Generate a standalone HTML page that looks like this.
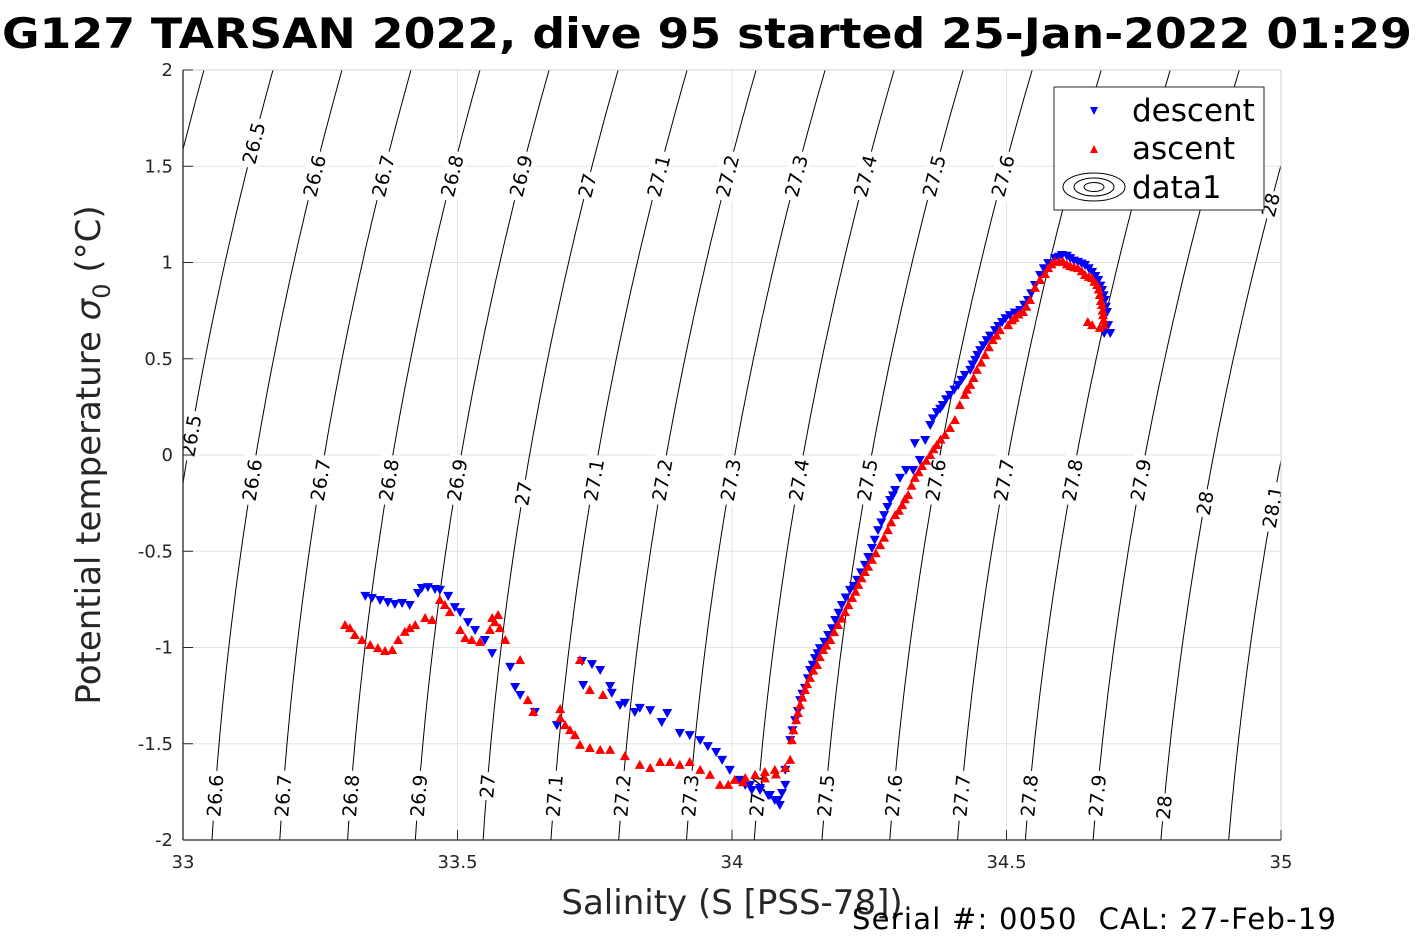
<!DOCTYPE html>
<html><head><meta charset="utf-8"><style>
html,body{margin:0;padding:0;background:#fff;}
svg{display:block;font-family:"Liberation Sans","DejaVu Sans",sans-serif;}
</style></head><body>
<svg id="chart" width="1417" height="945" viewBox="0 0 1417 945">
<text x="707" y="48" text-anchor="middle" font-size="42" font-weight="bold" textLength="1410" lengthAdjust="spacingAndGlyphs" font-family="DejaVu Sans, Liberation Sans, sans-serif">G127 TARSAN 2022, dive 95 started 25-Jan-2022 01:29</text>
<g id="grid"></g>
<g id="contours"></g>
<g id="series"></g>
<g id="axes"></g>
<text transform="translate(100,455) rotate(-90)" text-anchor="middle" font-size="34" fill="#262626" font-family="DejaVu Sans, sans-serif">Potential temperature <tspan font-style="italic">σ</tspan><tspan font-size="24" dy="10">0</tspan><tspan dy="-10"> (°C)</tspan></text>
<text x="732" y="914" text-anchor="middle" font-size="34" fill="#262626" font-family="DejaVu Sans, sans-serif">Salinity (S [PSS-78])</text>
<text x="852" y="929" font-size="29" fill="#000" textLength="484" lengthAdjust="spacing" style="white-space:pre" font-family="DejaVu Sans, sans-serif">Serial #: 0050  CAL: 27-Feb-19</text>
<g>
<rect x="1054" y="87" width="210" height="123" fill="#fff" stroke="#262626" stroke-width="1"/>
<polygon points="1090,107 1098,107 1094,115" fill="#0000ff"/>
<text x="1132" y="121" font-size="31" font-family="DejaVu Sans, sans-serif">descent</text>
<polygon points="1090,153 1098,153 1094,145" fill="#ff0000"/>
<text x="1132" y="159" font-size="31" font-family="DejaVu Sans, sans-serif">ascent</text>
<g fill="none" stroke="#000" stroke-width="1">
<ellipse cx="1094" cy="187" rx="31" ry="14"/><ellipse cx="1094" cy="187" rx="20" ry="9"/><ellipse cx="1094" cy="187" rx="10" ry="4.5"/></g>
<text x="1132" y="198" font-size="31" font-family="DejaVu Sans, sans-serif">data1</text>
</g>
</svg>
<script>
const xTicks=[33,33.5,34,34.5,35];
const yTicks=[2,1.5,1,0.5,0,-0.5,-1,-1.5,-2];
const xTickLabels=["33","33.5","34","34.5","35"];
const yTickLabels=["2","1.5","1","0.5","0","-0.5","-1","-1.5","-2"];
const sigmaLevels=[26.3,26.4,26.5,26.6,26.7,26.8,26.9,27,27.1,27.2,27.3,27.4,27.5,27.6,27.7,27.8,27.9,28,28.1,28.2];
const labelRowTop=[[26.5,1.62],[26.6,1.45],[26.7,1.45],[26.8,1.45],[26.9,1.45],[27,1.4],[27.1,1.45],[27.2,1.45],[27.3,1.45],[27.4,1.45],[27.5,1.45],[27.6,1.45],[28,1.3]];
const labelRowMid=[[26.5,0.1],[26.6,-0.13],[26.7,-0.13],[26.8,-0.13],[26.9,-0.13],[27,-0.2],[27.1,-0.13],[27.2,-0.13],[27.3,-0.13],[27.4,-0.13],[27.5,-0.13],[27.6,-0.13],[27.7,-0.13],[27.8,-0.13],[27.9,-0.13],[28,-0.25],[28.1,-0.27]];
const labelRowBot=[[26.6,-1.77],[26.7,-1.77],[26.8,-1.77],[26.9,-1.77],[27,-1.72],[27.1,-1.77],[27.2,-1.77],[27.3,-1.77],[27.4,-1.77],[27.5,-1.77],[27.6,-1.77],[27.7,-1.77],[27.8,-1.77],[27.9,-1.77],[28,-1.83]];
const descent=[[33.332,-.732],[33.344,-.743],[33.359,-.753],[33.373,-.764],[33.386,-.774],[33.399,-.769],[33.413,-.779],[33.428,-.717],[33.435,-.691],[33.446,-.686],[33.459,-.696],[33.468,-.701],[33.483,-.732],[33.495,-.790],[33.505,-.816],[33.519,-.868],[33.532,-.909],[33.550,-.961],[33.563,-1.029],[33.596,-1.101],[33.605,-1.205],[33.614,-1.247],[33.641,-1.335],[33.681,-1.403],[33.727,-1.070],[33.745,-1.086],[33.760,-1.117],[33.729,-1.195],[33.778,-1.200],[33.781,-1.236],[33.796,-1.299],[33.805,-1.288],[33.823,-1.335],[33.832,-1.314],[33.851,-1.325],[33.872,-1.387],[33.882,-1.340],[33.905,-1.444],[33.923,-1.455],[33.942,-1.481],[33.956,-1.512],[33.971,-1.543],[33.982,-1.584],[33.996,-1.636],[34.015,-1.688],[34.033,-1.714],[34.051,-1.740],[34.069,-1.766],[34.084,-1.792],[34.091,-1.756],[34.097,-1.714],[34.024,-1.714],[34.036,-1.740],[34.051,-1.730],[34.066,-1.766],[34.078,-1.792],[34.087,-1.818],[34.097,-1.636],
[34.106,-1.481],[34.115,-1.377],[34.124,-1.273],[34.133,-1.210],[34.142,-1.117],[34.151,-1.055],[34.160,-1.003],[34.175,-.935],[34.188,-.857],[34.200,-.779],[34.215,-.701],[34.228,-.649],[34.242,-.571],[34.255,-.483],[34.266,-.390],[34.277,-.312],[34.288,-.234],[34.297,-.182],[34.306,-.119],[34.317,-.078],[34.330,-.078],[34.333,.062],[34.342,-.026],[34.352,.078],[34.361,.156],[34.373,.223],[34.384,.260],[34.397,.312],[34.412,.364],[34.424,.416],[34.434,.442],[34.443,.494],[34.452,.545],[34.464,.597],[34.479,.649],[34.492,.691],[34.506,.727],[34.525,.753],[34.539,.805],[34.552,.883],[34.561,.935],[34.576,.997],[34.588,1.023],[34.601,1.039],[34.616,1.023],[34.630,1.003],[34.643,.987],[34.656,.951],[34.667,.909],[34.674,.857],[34.679,.805],[34.683,.743],[34.685,.675],[34.689,.634],[34.678,.634],
[34.11,-1.43],[34.12,-1.33],[34.128,-1.24],[34.138,-1.16],[34.147,-1.09],[34.156,-1.03],[34.168,-.97],[34.182,-.90],[34.194,-.82],[34.207,-.74],[34.222,-.68],[34.235,-.61],[34.248,-.53],[34.26,-.44],[34.272,-.35],[34.283,-.27],[34.293,-.21],[34.366,.19],[34.379,.24],[34.39,.29],[34.405,.34],[34.418,.39],[34.438,.47],[34.447,.52],[34.458,.57],[34.47,.62],[34.485,.67],[34.498,.71],[34.515,.74],[34.532,.78],[34.545,.84],[34.568,.97],[34.595,1.03],[34.61,1.035],[34.623,1.01],[34.637,.995],[34.65,.97],[34.662,.93],[34.671,.88],[34.677,.83],[34.681,.77]];
const ascent=[[33.295,-.883],[33.304,-.899],[33.313,-.935],[33.326,-.961],[33.341,-.987],[33.355,-1.003],[33.368,-1.018],[33.381,-1.013],[33.392,-.961],[33.404,-.919],[33.413,-.899],[33.423,-.883],[33.441,-.847],[33.454,-.857],[33.468,-.753],[33.477,-.779],[33.486,-.816],[33.505,-.909],[33.514,-.951],[33.526,-.961],[33.541,-.971],[33.559,-.909],[33.568,-.868],[33.577,-.899],[33.563,-.847],[33.574,-.831],[33.587,-.961],[33.614,-1.065],[33.628,-1.273],[33.638,-1.335],[33.687,-1.366],[33.696,-1.403],[33.705,-1.429],[33.714,-1.455],[33.723,-1.506],[33.741,-1.522],[33.760,-1.532],[33.778,-1.532],[33.805,-1.564],[33.832,-1.610],[33.851,-1.626],[33.869,-1.595],[33.887,-1.595],[33.905,-1.610],[33.923,-1.595],[33.942,-1.636],[33.960,-1.662],[33.978,-1.714],[33.993,-1.714],[34.005,-1.688],[34.024,-1.678],[34.042,-1.662],[34.060,-1.647],[34.078,-1.636],[34.097,-1.626],[34.106,-1.584],[34.109,-1.481],[34.117,-1.377],[34.124,-1.299],[34.133,-1.221],[34.142,-1.158],[34.155,-1.091],[34.166,-1.013],[34.179,-.961],[34.193,-.883],[34.206,-.816],[34.219,-.743],[34.230,-.675],[34.242,-.608],[34.255,-.545],[34.270,-.468],[34.284,-.390],[34.297,-.312],[34.310,-.260],[34.321,-.208],[34.333,-.119],[34.346,-.057],[34.361,0],[34.373,.052],[34.388,.104],[34.397,.140],[34.406,.182],[34.415,.260],[34.424,.312],[34.434,.364],[34.446,.442],[34.461,.519],[34.475,.597],[34.488,.649],[34.503,.675],[34.515,.712],[34.530,.743],[34.543,.805],[34.552,.868],[34.561,.909],[34.576,.971],[34.588,1.003],[34.603,1.003],[34.616,.982],[34.630,.971],[34.643,.935],[34.656,.919],[34.665,.883],[34.670,.831],[34.674,.779],[34.676,.727],[34.678,.675],[34.670,.660],[34.656,.675],[34.648,.691],
[33.723,-1.065],[33.741,-1.221],[33.765,-1.247],[33.687,-1.32],[34.02,-1.70],[34.06,-1.68],[34.08,-1.66],
[34.112,-1.43],[34.12,-1.34],[34.128,-1.26],[34.137,-1.19],[34.148,-1.12],[34.16,-1.05],[34.172,-.99],[34.186,-.92],[34.2,-.85],[34.212,-.78],[34.225,-.71],[34.236,-.64],[34.248,-.58],[34.262,-.51],[34.277,-.43],[34.29,-.35],[34.304,-.29],[34.315,-.23],[34.327,-.16],[34.34,-.09],[34.354,-.03],[34.367,.03],[34.38,.08],[34.428,.34],[34.44,.40],[34.454,.48],[34.468,.56],[34.482,.62],[34.51,.70],[34.522,.73],[34.536,.77],[34.57,.94],[34.582,.99],[34.596,1.005],[34.61,.99],[34.623,.975],[34.637,.955],[34.65,.925],[34.66,.90],[34.668,.86],[34.672,.80],[34.675,.75],[34.677,.70]];

const NS="http://www.w3.org/2000/svg";
const X0=183,X1=1281,Y0=840,Y1=70;
function xs(s){return X0+(s-33)/(35-33)*(X1-X0);}
function ys(t){return Y0-(t+2)/4*(Y0-Y1);}
function isoX(sig,t){return 256+32.5*t+5.25*t*t+(sig-26.6)*(684+3.1*t);}
function mk(tag,attrs,parent){const e=document.createElementNS(NS,tag);for(const k in attrs)e.setAttribute(k,attrs[k]);parent.appendChild(e);return e;}
const grid=document.getElementById('grid'),cont=document.getElementById('contours'),ser=document.getElementById('series'),ax=document.getElementById('axes');
mk('rect',{x:X0,y:Y1,width:X1-X0,height:Y0-Y1,fill:'#fff'},grid);
xTicks.forEach(v=>{const l=mk('line',{x1:xs(v),x2:xs(v),y1:Y1,y2:Y0,stroke:'#e3e3e3','stroke-width':1},grid);

});
yTicks.forEach(v=>{const l=mk('line',{x1:X0,x2:X1,y1:ys(v),y2:ys(v),stroke:'#e3e3e3','stroke-width':1},grid);

});
mk('clipPath',{id:'clip'},cont);
mk('rect',{x:X0,y:Y1,width:X1-X0,height:Y0-Y1},document.getElementById('clip'));
const lg=mk('g',{'clip-path':'url(#clip)'},cont);
sigmaLevels.forEach(sg=>{let pts=[];for(let t=-2;t<=2.0001;t+=0.05){pts.push(isoX(sg,t).toFixed(1)+','+ys(t).toFixed(1));}
const p=mk('polyline',{points:pts.join(' '),fill:'none',stroke:'#000','stroke-width':1},lg);

});
function lab(row){row.forEach(([sg,t])=>{const x=isoX(sg,t),y=ys(t);
const dx=isoX(sg,t+0.1)-x,dy=ys(t+0.1)-y;const ang=Math.atan2(dy,dx)*180/Math.PI;
const txt=(Math.round(sg*10)/10).toString();const w=txt.length*11+6;
const g=mk('g',{transform:`translate(${x.toFixed(1)},${y.toFixed(1)}) rotate(${ang.toFixed(1)})`},lg);


mk('rect',{x:-w/2,y:-11,width:w,height:22,fill:'#fff'},g);
const te=mk('text',{x:0,y:7,'text-anchor':'middle','font-size':19,fill:'#000','font-family':'DejaVu Sans, sans-serif'},g);te.textContent=txt;});}
lab(labelRowTop);lab(labelRowMid);lab(labelRowBot);
descent.forEach(([s,t])=>{const x=xs(s),y=ys(t);
const m=mk('polygon',{points:`${(x-5).toFixed(1)},${(y-4).toFixed(1)} ${(x+5).toFixed(1)},${(y-4).toFixed(1)} ${x.toFixed(1)},${(y+5).toFixed(1)}`,fill:'#0000ff'},ser);

});
ascent.forEach(([s,t])=>{const x=xs(s),y=ys(t);
const m=mk('polygon',{points:`${(x-5).toFixed(1)},${(y+4).toFixed(1)} ${(x+5).toFixed(1)},${(y+4).toFixed(1)} ${x.toFixed(1)},${(y-5).toFixed(1)}`,fill:'#ff0000'},ser);

});
mk('line',{x1:X0,x2:X1,y1:Y1,y2:Y1,stroke:'#d0d0d0'},ax);
mk('line',{x1:X1,x2:X1,y1:Y1,y2:Y0,stroke:'#d0d0d0'},ax);
const xa=mk('line',{x1:X0,x2:X1,y1:Y0,y2:Y0,stroke:'#262626','stroke-width':1.3},ax);


const ya=mk('line',{x1:X0,x2:X0,y1:Y1,y2:Y0,stroke:'#262626','stroke-width':1.3},ax);


xTicks.forEach((v,i)=>{mk('line',{x1:xs(v),x2:xs(v),y1:Y0,y2:Y0-10,stroke:'#262626'},ax);
const t=mk('text',{x:xs(v),y:Y0+28,'text-anchor':'middle','font-size':18,fill:'#262626','font-family':'DejaVu Sans, sans-serif'},ax);t.textContent=xTickLabels[i];

});
yTicks.forEach((v,i)=>{mk('line',{x1:X0,x2:X0+10,y1:ys(v),y2:ys(v),stroke:'#262626'},ax);
const t=mk('text',{x:X0-10,y:ys(v)+6,'text-anchor':'end','font-size':18,fill:'#262626','font-family':'DejaVu Sans, sans-serif'},ax);t.textContent=yTickLabels[i];

});
</script>
</body></html>
